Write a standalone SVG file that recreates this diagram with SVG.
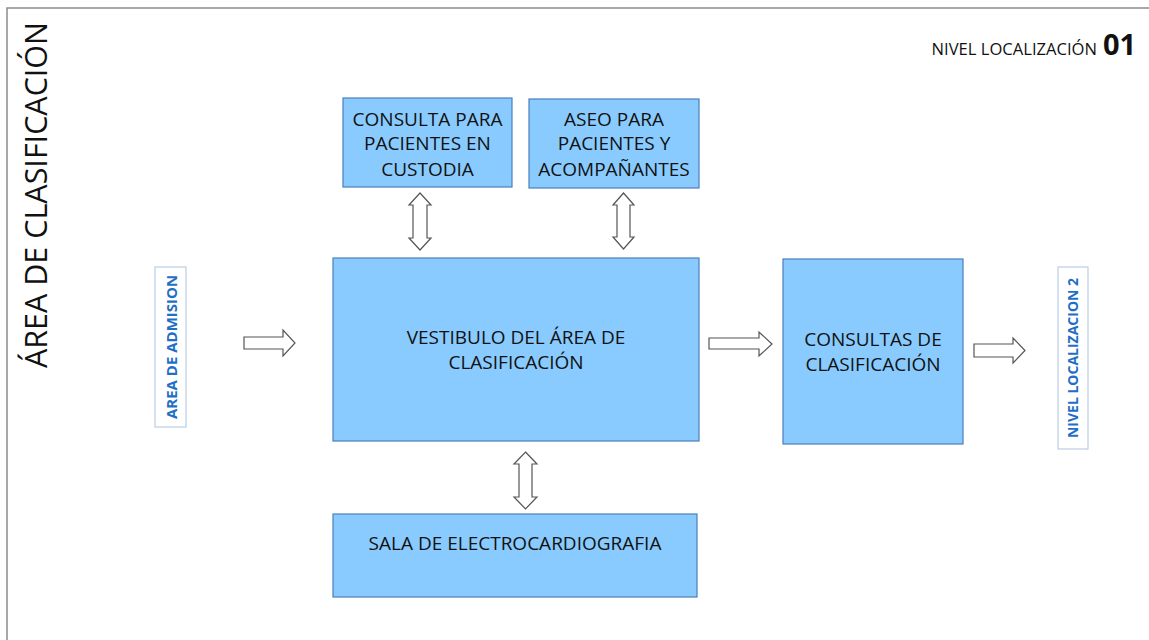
<svg xmlns="http://www.w3.org/2000/svg" width="1149" height="640" viewBox="0 0 1149 640">
<style>
.box{fill:#89CBFF;stroke:#4A7EBB;stroke-width:1.2}
.lbl{fill:#FFFFFF;stroke:#B9CDE5;stroke-width:1.2}
.t{font-family:"Open Sans","Noto Sans",sans-serif;font-size:19px;fill:#111111;text-anchor:middle}
.bt{font-family:"Open Sans","Noto Sans",sans-serif;font-weight:bold;fill:#1F6FC5;text-anchor:middle}
.arr{fill:#FFFFFF;stroke:#555555;stroke-width:1.2;stroke-linejoin:miter}
</style>
<rect x="7" y="8" width="1160" height="660" fill="#FFFFFF" stroke="#8C8C8C" stroke-width="1.5"/>
<g id="title">
<text x="0" y="0" transform="translate(47,195) rotate(-90)" font-family="Open Sans, Noto Sans, sans-serif" font-size="30.5" fill="#111111" text-anchor="middle">ÁREA DE CLASIFICACIÓN</text>
</g>
<g id="nivel">
<text x="1097" y="55" font-family="Open Sans, Noto Sans, sans-serif" font-size="16.6" fill="#111111" text-anchor="end">NIVEL LOCALIZACIÓN</text>
<text x="1103" y="55" font-family="Open Sans, Noto Sans, sans-serif" font-size="29" font-weight="bold" fill="#111111">01</text>
</g>
<g id="custodia">
<rect class="box" x="343" y="98" width="169" height="89"/>
<text class="t" x="427.5" y="126">CONSULTA PARA</text>
<text class="t" x="427.5" y="150">PACIENTES EN</text>
<text class="t" x="427.5" y="176">CUSTODIA</text>
</g>
<g id="aseo">
<rect class="box" x="529" y="99" width="170" height="89"/>
<text class="t" x="614" y="126">ASEO PARA</text>
<text class="t" x="614" y="150">PACIENTES Y</text>
<text class="t" x="614" y="176">ACOMPAÑANTES</text>
</g>
<g id="vestibulo">
<rect class="box" x="333" y="258" width="366" height="183"/>
<text class="t" x="516" y="344">VESTIBULO DEL ÁREA DE</text>
<text class="t" x="516" y="369">CLASIFICACIÓN</text>
</g>
<g id="consultas">
<rect class="box" x="783" y="259" width="180" height="185"/>
<text class="t" x="873" y="346">CONSULTAS DE</text>
<text class="t" x="873" y="371">CLASIFICACIÓN</text>
</g>
<g id="sala">
<rect class="box" x="333" y="514" width="364" height="83"/>
<text class="t" x="515" y="550">SALA DE ELECTROCARDIOGRAFIA</text>
</g>
<g id="admision">
<rect class="lbl" x="155" y="267" width="31" height="160"/>
<text class="bt" x="0" y="0" font-size="15" transform="translate(176.5,347) rotate(-90)">AREA DE ADMISION</text>
</g>
<g id="nivel2">
<rect class="lbl" x="1058" y="267" width="30" height="182"/>
<text class="bt" x="0" y="0" font-size="14" transform="translate(1078,358) rotate(-90)">NIVEL LOCALIZACION 2</text>
</g>
<g id="connectors">
<polygon class="arr" points="244,337 283,337 283,330 295,343 283,356 283,349 244,349"/>
<polygon class="arr" points="709,338 759,338 759,332 772,344 759,356 759,349 709,349"/>
<polygon class="arr" points="974,344 1013,344 1013,338 1025,350.5 1013,363 1013,357 974,357"/>
<polygon class="arr" points="420,193 431,205 427,205 427,238 431,238 420,250 409,238 413,238 413,205 409,205"/>
<polygon class="arr" points="623.5,193 634,205 630,205 630,237 634,237 623.5,249 613,237 617,237 617,205 613,205"/>
<polygon class="arr" points="525.5,452 537,464 532,464 532,497 537,497 525.5,509 514,497 519,497 519,464 514,464"/>
</g>
</svg>
